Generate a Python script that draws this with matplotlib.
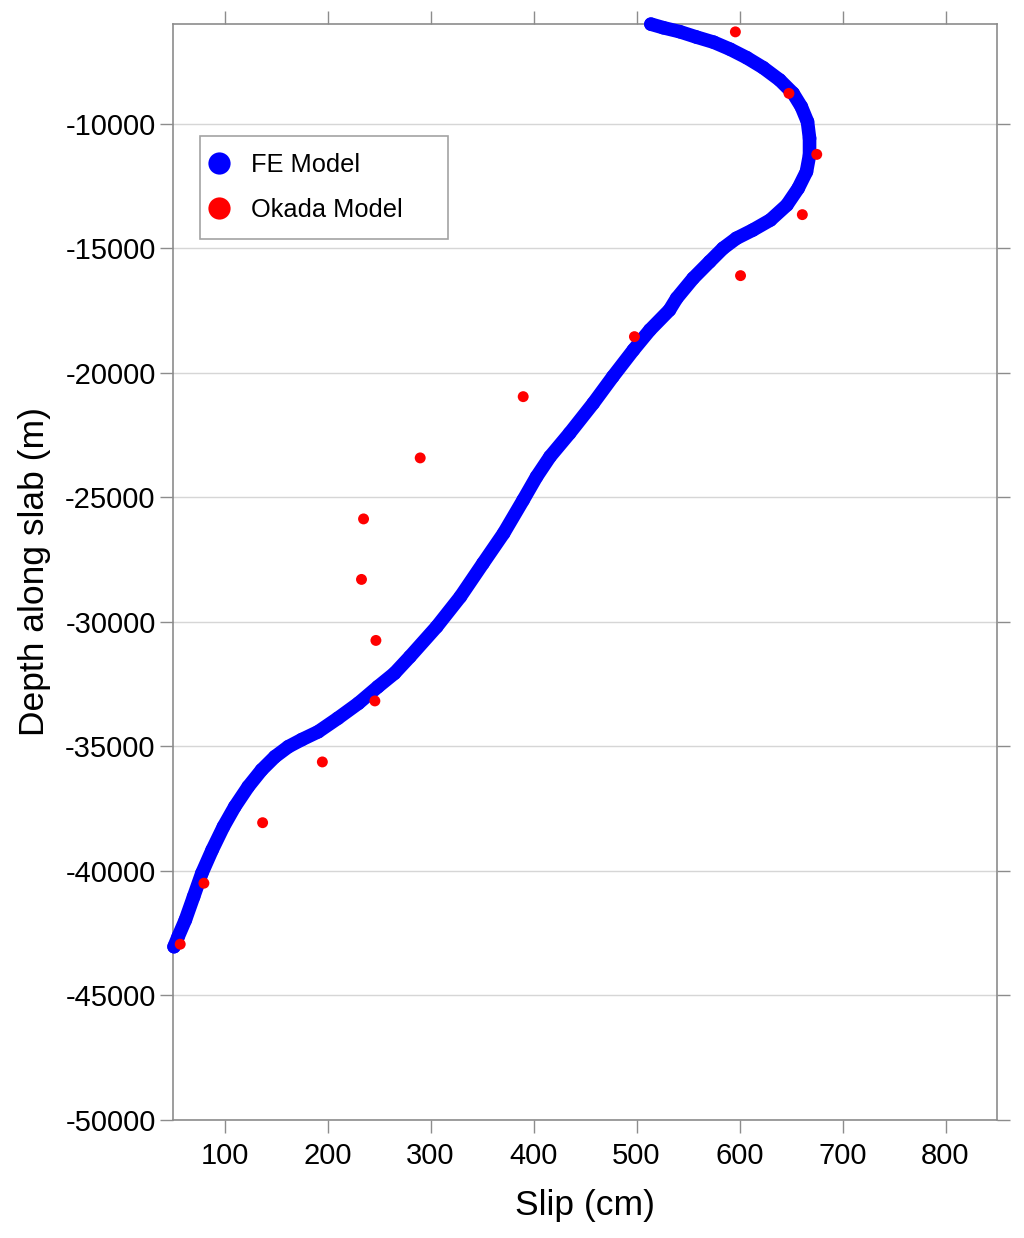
import matplotlib
matplotlib.use("Agg")
import matplotlib.pyplot as plt
from matplotlib.lines import Line2D

# FE model (centerline)
fe_slip = [514, 526, 542, 558, 575, 591, 607, 623, 639, 652,
           660, 666, 668, 668, 665, 657, 646, 630, 613, 597,
           584, 571, 555, 539, 532, 513, 497, 477, 458, 435,
           416, 403, 390, 371, 351, 329, 306, 280, 265, 249,
           230, 210, 191, 175, 162, 149, 136, 123, 110, 99,
           88, 78, 70, 62, 55, 51]
fe_depth = [-5990, -6133, -6293, -6506, -6717, -7000, -7337, -7739, -8233, -8767,
            -9305, -9908, -10574, -11245, -11916, -12582, -13253, -13855, -14257, -14590,
            -14992, -15530, -16197, -16999, -17470, -18273, -19076, -20148, -21216, -22421,
            -23361, -24164, -25100, -26437, -27642, -28983, -30188, -31393, -32060, -32598,
            -33265, -33867, -34406, -34723, -35007, -35409, -35943, -36614, -37417, -38220,
            -39156, -40092, -41032, -41967, -42638, -43040]

# Okada model
ok_slip = [596, 648, 675, 661, 601, 498, 390, 290, 235, 233, 247, 246, 195, 137, 80, 57]
ok_depth = [-6300, -8770, -11220, -13640, -16090, -18540, -20950, -23410, -25860,
            -28290, -30740, -33170, -35620, -38060, -40490, -42940]

series_names = ['FE Model', 'Okada Model']
xticks = [100, 200, 300, 400, 500, 600, 700, 800]
yticks = [-50000, -45000, -40000, -35000, -30000, -25000, -20000, -15000, -10000]

plt.rcParams['font.family'] = ['Liberation Sans', 'DejaVu Sans']

fig = plt.figure(figsize=(10.24, 12.38), dpi=100)
ax = fig.add_axes([173/1024, 1 - 1120/1238, (997-173)/1024, (1120-24)/1238])

ax.plot(fe_slip, fe_depth, color='#0000ff', lw=9.8, solid_capstyle='round',
        solid_joinstyle='round', zorder=3, clip_on=False)
ax.scatter(fe_slip, fe_depth, s=95, color='#0000ff', edgecolors='none', zorder=3,
           clip_on=False)
ax.scatter(ok_slip, ok_depth, s=62, color='#ff0000', edgecolors='none', zorder=4,
           clip_on=False)

ax.set_xlim(50, 850)
ax.set_ylim(-50000, -5984)
ax.set_xticks(xticks)
ax.set_yticks(yticks)
ax.set_xticklabels([str(v) for v in xticks])
ax.set_yticklabels([str(v) for v in yticks])

ax.yaxis.grid(True, color='#d6d6d6', lw=1)
ax.set_axisbelow(True)

for s in ax.spines.values():
    s.set_color('#8c8c8c')
    s.set_linewidth(1.2)

ax.tick_params(axis='both', which='major', direction='out', length=9.5, width=1,
               color='#8c8c8c', labelsize=21, labelcolor='black',
               top=True, right=True, labeltop=False, labelright=False)
ax.tick_params(axis='x', pad=6)
ax.tick_params(axis='y', pad=3)

ax.set_xlabel('Slip (cm)', fontsize=25.5, labelpad=14)
ax.set_ylabel('Depth along slab (m)', fontsize=25.5, labelpad=10)

handles = [Line2D([], [], ls='none', marker='o', markersize=16, color='#0000ff',
                  markeredgewidth=0),
           Line2D([], [], ls='none', marker='o', markersize=16, color='#ff0000',
                  markeredgewidth=0)]
leg = ax.legend(handles, series_names, loc='upper left',
                bbox_to_anchor=(0.0328, 0.805, 0.301, 0.093),
                mode='expand', borderaxespad=0,
                fontsize=18.3, frameon=True, fancybox=False, edgecolor='#8c8c8c',
                handletextpad=1.14, borderpad=0.66, labelspacing=0.84,
                handlelength=0.2)
leg.get_frame().set_linewidth(1.2)

fig.savefig('out.png', dpi=100, facecolor='white')
